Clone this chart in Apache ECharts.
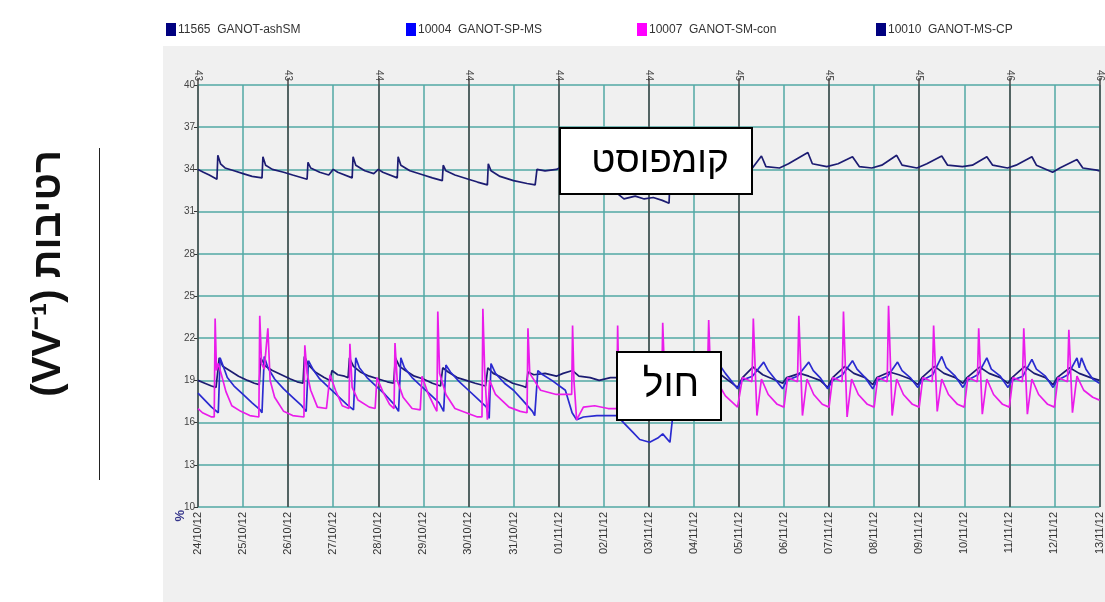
<!DOCTYPE html>
<html>
<head>
<meta charset="utf-8">
<script src="https://cdn.jsdelivr.net/npm/echarts@6/dist/echarts.min.js"></script>
<style>
  html, body { margin: 0; padding: 0; background: #ffffff; }
  #chart { width: 1105px; height: 602px; }
</style>
</head>
<body>
<div id="chart"></div>
<script>
// Day labels along the bottom (one per day, 24/10/12 .. 13/11/12)
const dateLabels = ['24/10/12','25/10/12','26/10/12','27/10/12','28/10/12','29/10/12','30/10/12',
  '31/10/12','01/11/12','02/11/12','03/11/12','04/11/12','05/11/12','06/11/12','07/11/12',
  '08/11/12','09/11/12','10/11/12','11/11/12','12/11/12','13/11/12'];
// Week numbers shown along the top, every second day
const weekLabels = ['43','43','44','44','44','44','45','45','45','46','46'];
// Moisture axis ticks (%)
const yTicks = [10, 13, 16, 19, 22, 25, 28, 31, 34, 37, 40];

const seriesNames = ['11565  GANOT-ashSM', '10004  GANOT-SP-MS', '10007  GANOT-SM-con', '10010  GANOT-MS-CP'];

// [day since 24/10/12, moisture %]
const ashSM = [
  [0,19.0],[0.15,18.8],[0.3,18.6],[0.4,18.5],[0.47,20.6],[0.55,20.0],[0.7,19.7],[0.9,19.3],[1.1,19.0],[1.25,18.8],
  [1.36,18.7],[1.39,20.6],[1.5,20.0],[1.65,19.7],[1.85,19.4],[2.05,19.1],[2.2,18.9],[2.33,18.8],[2.36,20.7],[2.45,20.1],
  [2.6,19.6],[2.8,19.2],[2.93,19.0],[2.97,19.7],[3.1,19.4],[3.25,19.3],[3.33,19.2],[3.36,20.6],[3.45,20.0],[3.6,19.6],
  [3.8,19.3],[4.0,19.1],[4.2,18.9],[4.34,18.8],[4.38,20.6],[4.47,20.0],[4.6,19.7],[4.8,19.3],[5.0,19.1],[5.2,18.8],
  [5.38,18.6],[5.43,19.9],[5.55,19.6],[5.75,19.2],[5.95,19.0],[6.15,18.8],[6.38,18.6],[6.43,19.9],[6.55,19.5],[6.75,19.2],
  [6.98,18.8],[7.2,18.6],[7.28,18.5],[7.32,19.6],[7.45,19.4],[7.7,19.5],[7.95,19.3],[8.1,19.5],[8.31,19.7],[8.45,19.3],
  [8.7,19.2],[8.9,19.0],[9.15,19.2],[9.3,19.2],[9.36,18.4],[9.6,18.9],[9.9,18.7],[10.1,19.3],[10.35,19.9],[10.6,19.3],
  [11.0,18.8],[11.08,19.2],[11.33,19.9],[11.6,19.4],[11.97,18.5],[12.08,19.2],[12.31,19.95],[12.53,19.4],[12.75,19.1],[12.97,18.8],
  [13.06,19.2],[13.35,19.5],[13.55,19.3],[13.8,19.0],[13.97,18.5],[14.08,19.2],[14.35,20.0],[14.55,19.5],[14.8,19.2],[14.97,18.7],
  [15.06,19.2],[15.34,19.6],[15.55,19.4],[15.8,19.1],[15.97,18.7],[16.06,19.2],[16.34,20.0],[16.55,19.5],[16.8,19.2],[16.97,18.8],
  [17.06,19.2],[17.34,19.95],[17.55,19.5],[17.8,19.2],[17.97,18.8],[18.06,19.2],[18.34,20.0],[18.55,19.5],[18.8,19.2],[18.97,18.7],
  [19.06,19.2],[19.34,19.9],[19.55,19.5],[19.8,19.2],[20,19.0]
];

const spMS = [
  [0,18.1],[0.15,17.6],[0.3,17.1],[0.45,16.7],[0.49,20.6],[0.56,20.0],[0.65,19.2],[0.8,18.6],[1.0,18.0],[1.2,17.4],
  [1.38,16.9],[1.42,16.7],[1.47,20.7],[1.55,19.9],[1.7,19.1],[1.9,18.4],[2.1,17.8],[2.3,17.2],[2.4,16.8],[2.45,20.4],
  [2.55,19.8],[2.7,19.1],[2.9,18.5],[3.1,17.9],[3.3,17.3],[3.45,16.9],[3.5,20.6],[3.58,19.9],[3.75,19.2],[3.95,18.6],
  [4.15,18.0],[4.35,17.3],[4.45,16.8],[4.5,20.6],[4.58,19.9],[4.75,19.2],[4.95,18.6],[5.15,18.0],[5.35,17.4],[5.45,16.8],
  [5.5,20.1],[5.6,19.6],[5.8,18.9],[6.0,18.3],[6.2,17.7],[6.4,17.1],[6.46,16.3],[6.5,20.2],[6.6,19.5],[6.8,18.8],
  [7.0,18.3],[7.2,17.6],[7.42,16.8],[7.47,16.5],[7.54,19.7],[7.65,19.4],[7.85,19.0],[8.15,18.3],[8.3,16.7],[8.4,16.2],
  [8.55,16.4],[8.85,16.5],[9.3,16.5],[9.44,16.0],[9.65,15.3],[9.8,14.8],[10.02,14.6],[10.2,14.9],[10.31,15.2],[10.47,14.6],
  [10.53,16.4],[10.7,17.5],[11.0,18.3],[11.3,18.6],[11.55,20.2],[11.7,19.5],[11.97,18.4],[12.06,19.0],[12.3,19.3],[12.55,20.3],
  [12.65,19.7],[12.8,19.1],[12.97,18.4],[13.06,19.0],[13.3,19.3],[13.55,20.3],[13.65,19.7],[13.8,19.2],[13.97,18.4],[14.08,19.0],
  [14.3,19.4],[14.52,20.4],[14.62,19.8],[14.8,19.2],[14.97,18.4],[15.06,19.0],[15.3,19.3],[15.52,20.3],[15.62,19.7],[15.8,19.2],
  [15.97,18.5],[16.06,19.0],[16.3,19.4],[16.5,20.7],[16.6,19.9],[16.8,19.3],[16.97,18.5],[17.06,19.0],[17.3,19.4],[17.5,20.6],
  [17.6,19.8],[17.8,19.3],[17.97,18.5],[18.06,19.0],[18.3,19.3],[18.5,20.5],[18.6,19.8],[18.8,19.3],[18.97,18.5],[19.06,19.0],
  [19.3,19.4],[19.5,20.6],[19.55,19.9],[19.6,20.6],[19.7,19.8],[19.85,19.1],[20,18.8]
];

const smCon = [
  [0,17.0],[0.1,16.7],[0.3,16.4],[0.36,16.4],[0.38,23.4],[0.41,19.7],[0.45,20.2],[0.52,19.4],[0.62,18.2],[0.75,17.2],
  [0.95,16.8],[1.15,16.5],[1.35,16.4],[1.37,23.6],[1.41,20.2],[1.47,19.8],[1.55,22.7],[1.6,19.0],[1.7,17.8],[1.9,16.8],
  [2.1,16.5],[2.35,16.4],[2.37,21.5],[2.42,19.5],[2.5,18.3],[2.65,17.1],[2.85,17.0],[2.93,19.4],[3.05,18.3],[3.2,17.2],
  [3.35,17.0],[3.37,21.6],[3.42,18.5],[3.55,17.6],[3.8,17.1],[3.93,17.0],[3.97,19.2],[4.1,18.2],[4.25,17.3],[4.35,17.0],
  [4.37,21.65],[4.42,19.0],[4.55,17.8],[4.75,17.0],[4.93,16.9],[4.97,19.3],[5.1,18.1],[5.25,17.1],[5.3,16.8],[5.32,23.9],
  [5.36,19.5],[5.5,18.0],[5.7,17.0],[5.95,16.7],[6.2,16.4],[6.3,16.4],[6.32,24.1],[6.36,19.7],[6.42,16.2],[6.47,19.0],
  [6.6,18.0],[6.9,17.1],[7.15,16.8],[7.3,16.7],[7.32,22.7],[7.36,19.5],[7.6,18.3],[7.95,18.0],[8.29,18.0],[8.31,22.9],
  [8.34,19.0],[8.4,16.2],[8.55,17.1],[8.8,17.2],[9.1,17.0],[9.29,17.0],[9.31,22.9],[9.34,18.1],[9.6,17.3],[10.0,17.0],
  [10.1,19.0],[10.29,19.0],[10.31,23.1],[10.38,16.6],[10.5,19.0],[10.7,18.0],[11.0,17.2],[11.08,19.2],[11.3,19.0],[11.33,23.3],
  [11.4,16.6],[11.5,19.0],[11.7,17.9],[11.97,17.1],[12.08,19.2],[12.29,18.9],[12.32,23.4],[12.4,16.5],[12.5,19.1],[12.65,18.0],
  [12.85,17.3],[13.0,17.1],[13.08,19.2],[13.3,18.9],[13.33,23.6],[13.41,16.5],[13.51,19.1],[13.66,18.0],[13.85,17.3],[14.0,17.1],
  [14.08,19.2],[14.29,18.9],[14.32,23.9],[14.4,16.4],[14.5,19.1],[14.65,18.0],[14.85,17.3],[15.0,17.1],[15.08,19.2],[15.29,18.9],
  [15.32,24.3],[15.4,16.5],[15.5,19.1],[15.65,18.0],[15.85,17.3],[16.0,17.1],[16.08,19.2],[16.29,18.9],[16.32,22.9],[16.4,16.8],
  [16.5,19.1],[16.65,18.0],[16.85,17.3],[17.0,17.1],[17.08,19.2],[17.29,18.9],[17.32,22.7],[17.4,16.6],[17.5,19.1],[17.65,18.0],
  [17.85,17.3],[18.0,17.1],[18.08,19.2],[18.29,18.9],[18.32,22.7],[18.4,16.6],[18.5,19.1],[18.65,18.0],[18.85,17.3],[19.0,17.1],
  [19.08,19.2],[19.29,18.9],[19.32,22.6],[19.4,16.7],[19.5,19.3],[19.65,18.3],[19.85,17.8],[20,17.6]
];

const msCP = [
  [0,34.0],[0.12,33.8],[0.25,33.6],[0.42,33.3],[0.44,35.0],[0.5,34.4],[0.6,34.1],[0.8,33.9],[1.0,33.7],[1.2,33.5],
  [1.42,33.4],[1.44,34.9],[1.5,34.3],[1.65,34.0],[1.9,33.8],[2.1,33.6],[2.42,33.3],[2.44,34.5],[2.5,34.1],[2.7,33.8],
  [2.9,33.6],[3.0,34.0],[3.1,33.8],[3.42,33.4],[3.44,34.9],[3.5,34.3],[3.7,33.9],[3.9,33.7],[4.0,34.0],[4.1,33.8],
  [4.42,33.4],[4.44,34.9],[4.5,34.3],[4.7,33.9],[5.0,33.6],[5.2,33.4],[5.42,33.2],[5.44,34.3],[5.5,33.9],[5.7,33.6],
  [6.0,33.3],[6.2,33.1],[6.42,32.9],[6.44,34.4],[6.5,33.9],[6.7,33.5],[7.0,33.2],[7.3,33.0],[7.48,32.9],[7.52,34.0],
  [7.7,33.9],[7.95,34.0],[8.2,34.4],[8.44,35.0],[8.6,34.0],[9.0,33.2],[9.3,32.3],[9.45,31.9],[9.7,32.1],[9.9,31.9],
  [10.1,32.0],[10.3,31.8],[10.45,31.6],[10.48,34.0],[10.6,34.4],[11.0,34.0],[11.44,34.9],[11.6,34.2],[12.0,34.0],[12.3,34.1],
  [12.5,34.95],[12.6,34.2],[12.9,34.1],[13.1,34.4],[13.53,35.2],[13.63,34.4],[13.95,34.2],[14.2,34.4],[14.52,34.9],[14.67,34.2],
  [14.95,34.1],[15.17,34.3],[15.5,35.0],[15.62,34.3],[15.95,34.1],[16.17,34.4],[16.5,34.95],[16.63,34.3],[16.96,34.2],[17.18,34.3],
  [17.5,34.9],[17.63,34.3],[17.96,34.1],[18.15,34.3],[18.5,34.9],[18.6,34.3],[18.96,33.8],[19.12,34.1],[19.5,34.7],[19.63,34.1],
  [19.94,33.95],[20,33.9]
];

const chart = echarts.init(document.getElementById('chart'), null, { renderer: 'canvas' });

const legendPos = [166, 406, 637, 876];
const legendColors = ['#000080', '#0000ff', '#ff00ff', '#000080'];
const lineColors = ['#1c1c72', '#2a2ad0', '#ea1cea', '#1c1c72'];
const seriesData = [ashSM, spMS, smCon, msCP];
const teal = '#52a8a4';
const darkGrid = '#474747';

const option = {
  animation: false,
  textStyle: { fontFamily: 'Liberation Sans, Arial, sans-serif' },
  legend: seriesNames.map((n, i) => ({
    data: [n],
    left: legendPos[i],
    top: 23,
    icon: 'rect',
    itemWidth: 10,
    itemHeight: 13,
    itemGap: 0,
    padding: 0,
    textStyle: { fontSize: 12, color: '#333', padding: [0, 0, 0, -3] }
  })),
  grid: { left: 198, right: 5, top: 85, bottom: 95, containLabel: false },
  xAxis: [
    {
      // daily grid (teal) with the date labels
      type: 'value', min: 0, max: 20, interval: 1, position: 'bottom',
      axisLine: { show: false },
      axisTick: { show: false },
      axisLabel: {
        rotate: 90, fontSize: 11, color: '#333', margin: 5,
        formatter: v => dateLabels[Math.round(v)] || ''
      },
      splitLine: { show: true, lineStyle: { color: teal, width: 1.5 } },
      z: 1
    },
    {
      // every second day (dark) with week numbers on top
      type: 'value', min: 0, max: 20, interval: 2, position: 'top',
      axisLine: { show: false },
      axisTick: { show: true, length: 7, lineStyle: { color: darkGrid, width: 1.5 } },
      axisLabel: {
        rotate: 90, fontSize: 10, color: '#444', margin: 4,
        formatter: v => weekLabels[Math.round(v / 2)] || ''
      },
      splitLine: { show: true, lineStyle: { color: darkGrid, width: 1.5 } },
      z: 2
    }
  ],
  yAxis: {
    type: 'value', min: 10, max: 40,
    axisLine: { show: false },
    axisTick: { show: true, length: 4, customValues: yTicks, lineStyle: { color: '#333' } },
    axisLabel: { fontSize: 10, color: '#444', margin: 3, customValues: yTicks },
    splitLine: { show: true, lineStyle: { color: teal, width: 1.5 } }
  },
  series: seriesData.map((d, i) => ({
    name: seriesNames[i],
    type: 'line',
    xAxisIndex: 0,
    data: d,
    showSymbol: false,
    symbol: 'none',
    z: 3,
    itemStyle: { color: legendColors[i] },
    lineStyle: { color: lineColors[i], width: 1.7 }
  })),
  graphic: [
    { type: 'rect', z: -10, shape: { x: 163, y: 46, width: 942, height: 556 }, style: { fill: '#f0f0f0' }, silent: true },
    {
      type: 'text', left: 29, top: 150, rotation: Math.PI / 2, z: 10,
      style: { text: '(VV⁻¹) רטיבות', font: 'bold 40px "Liberation Sans", Arial, sans-serif', fill: '#111' }
    },
    { type: 'line', z: 10, shape: { x1: 99.5, y1: 148, x2: 99.5, y2: 480 }, style: { stroke: '#222', lineWidth: 1 } },
    {
      type: 'text', left: 174, top: 510, rotation: Math.PI / 2, z: 10,
      style: { text: '%', font: 'bold 13px "Liberation Sans", Arial, sans-serif', fill: '#34348a' }
    },
    { type: 'rect', z: 100, shape: { x: 560, y: 128, width: 192, height: 66 }, style: { fill: '#ffffff', stroke: '#000', lineWidth: 2 } },
    {
      type: 'text', z: 101, x: 660, y: 162,
      style: { text: 'קומפוסט', font: '37px "Liberation Sans", Arial, sans-serif', fill: '#000', textAlign: 'center', textVerticalAlign: 'middle' }
    },
    { type: 'rect', z: 100, shape: { x: 617, y: 352, width: 104, height: 68 }, style: { fill: '#ffffff', stroke: '#000', lineWidth: 2 } },
    {
      type: 'text', z: 101, x: 671, y: 385,
      style: { text: 'חול', font: '39px "Liberation Sans", Arial, sans-serif', fill: '#000', textAlign: 'center', textVerticalAlign: 'middle' }
    }
  ]
};

chart.setOption(option);
</script>
</body>
</html>
